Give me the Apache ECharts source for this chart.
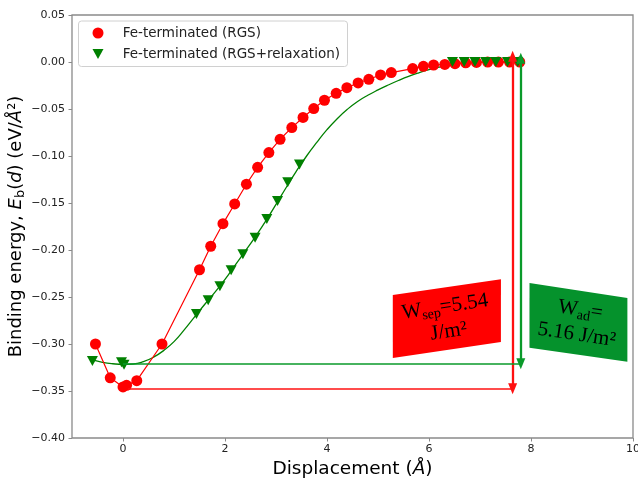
<!DOCTYPE html>
<html><head><meta charset="utf-8">
<script src="https://cdn.jsdelivr.net/npm/echarts@6/dist/echarts.min.js"></script>
<style>html,body{margin:0;padding:0;background:#fff}#c{width:638px;height:483px}</style>
</head><body><div id="c"></div>
<script>
// ---- data ----
const xTickValues = [0, 2, 4, 6, 8, 10];
const seriesNames = ['Fe-terminated (RGS)', 'Fe-terminated (RGS+relaxation)'];
const rgsX = [-0.54,-0.25,0.0,0.07,0.27,0.765,1.50,1.72,1.96,2.19,2.42,2.64,2.86,3.08,3.31,3.53,3.74,3.95,4.18,4.39,4.61,4.82,5.05,5.26,5.68,5.89,6.09,6.31,6.51,6.72,6.93,7.15,7.36,7.58,7.78];
const rgsY = [-0.300,-0.336,-0.3457,-0.344,-0.339,-0.300,-0.221,-0.196,-0.172,-0.151,-0.130,-0.112,-0.0964,-0.0822,-0.0698,-0.059,-0.0495,-0.0407,-0.0333,-0.0273,-0.0223,-0.0184,-0.0138,-0.0113,-0.0070,-0.0046,-0.0032,-0.0026,-0.0018,-0.0009,-0.0005,0,0,0,0];
const relaxX = [-0.60,-0.03,0.02,1.44,1.67,1.90,2.12,2.35,2.59,2.82,3.03,3.23,3.46,6.46,6.69,6.90,7.11,7.31,7.54,7.74];
const relaxY = [-0.318,-0.3195,-0.322,-0.268,-0.2535,-0.2386,-0.2216,-0.2045,-0.187,-0.167,-0.148,-0.128,-0.109,0,0,0,0,0,0,0];
const fitX = [-0.6,-0.4,-0.2,0.0,0.2,0.4,0.6,0.8,1.0,1.2,1.4,1.6,1.8,2.0,2.2,2.4,2.6,2.8,3.0,3.2,3.4,3.6,3.8,4.0,4.2,4.4,4.6,4.8,5.0,5.2,5.4,5.6,5.8,6.0,6.2,6.4,6.6,6.8,7.0,7.4,7.8];
const fitY = [-0.317,-0.3195,-0.321,-0.3217,-0.3213,-0.3188,-0.3140,-0.3068,-0.2975,-0.2850,-0.2715,-0.2580,-0.2450,-0.2313,-0.2160,-0.2010,-0.1855,-0.1690,-0.1515,-0.1335,-0.1160,-0.1000,-0.0855,-0.0720,-0.0603,-0.0503,-0.0420,-0.0354,-0.0297,-0.0245,-0.0197,-0.0153,-0.0115,-0.0082,-0.0055,-0.0033,-0.0017,-0.0007,-0.0002,0,0];
// annotation values
const wSep = { level: -0.3475, xStart: 0.1, xArrow: 7.64, top: 0.006, label: ['W', 'sep', '=5.54', 'J/m²'] };
const wAd  = { level: -0.321,  xStart: 0.0, xArrow: 7.80, top: 0.004, label: ['W', 'ad', '=', '5.16 J/m²'] };

const zip = (a, b) => a.map((v, i) => [v, b[i]]);
const RED = '#ff0000', GREEN = '#008000', RED_A = '#ff1010', GREEN_A = '#0a9a2a';
const triDown = 'path://M0,0 L10,0 L5,10 Z';

const chart = echarts.init(document.getElementById('c'), null, { renderer: 'canvas' });
const fmt = v => { const s = Math.abs(v).toFixed(2); return (v < -1e-9 ? '\u2212' : '') + s; };

function arrowLines(a, color) {
  return {
    silent: true, animation: false,
    lineStyle: { color: color, type: 'solid' },
    label: { show: false },
    emphasis: { disabled: true },
    data: [
      [{ coord: [a.xArrow, a.top], symbol: 'triangle', symbolSize: [9, 11], lineStyle: { width: 2.3, color: color } },
       { coord: [a.xArrow, a.level], symbol: 'triangle', symbolSize: [9, 11] }],
      [{ coord: [a.xStart, a.level], symbol: 'none', lineStyle: { width: 1.5, color: color } },
       { coord: [a.xArrow, a.level], symbol: 'none' }]
    ]
  };
}

chart.setOption({
  animation: false,
  grid: { left: 72, right: 5, top: 15, bottom: 45, show: true, borderColor: '#8a8a8a', borderWidth: 1.3,
          outerBoundsMode: 'none', containLabel: false },
  xAxis: {
    type: 'value', min: -1, max: 10,
    axisLine: { show: false, onZero: false },
    splitLine: { show: false },
    axisTick: { show: true, customValues: xTickValues, length: 3.5, lineStyle: { color: '#8a8a8a' } },
    axisLabel: { customValues: xTickValues, margin: 6, fontSize: 11, color: '#222', fontFamily: 'DejaVu Sans' },
    name: '{n|Displacement (}{i|Å}{n|)}', nameLocation: 'middle', nameGap: 22, nameMoveOverlap: false,
    nameTextStyle: { rich: {
      n: { fontSize: 18.5, fontFamily: 'DejaVu Sans', color: '#000' },
      i: { fontSize: 18.5, fontFamily: 'DejaVu Sans', fontStyle: 'italic', color: '#000' } } }
  },
  yAxis: {
    type: 'value', min: -0.4, max: 0.05, interval: 0.05,
    axisLine: { show: false, onZero: false },
    splitLine: { show: false },
    axisTick: { show: true, length: 3.5, lineStyle: { color: '#8a8a8a' } },
    axisLabel: { formatter: fmt, margin: 7, fontSize: 11, color: '#222', fontFamily: 'DejaVu Sans' },
    name: '{n|Binding energy, }{i|E}{s|b}{n|(}{i|d}{n|) (eV/}{i|Å}{n|²)}',
    nameLocation: 'middle', nameGap: 45, nameRotate: 90, nameMoveOverlap: false,
    nameTextStyle: { rich: {
      n: { fontSize: 18, fontFamily: 'DejaVu Sans', color: '#000', lineHeight: 22 },
      i: { fontSize: 18, fontFamily: 'DejaVu Sans', fontStyle: 'italic', color: '#000', lineHeight: 22 },
      s: { fontSize: 13, fontFamily: 'DejaVu Sans', color: '#000', verticalAlign: 'bottom', lineHeight: 15 } } }
  },
  series: [
    { name: seriesNames[0], type: 'line', data: zip(rgsX, rgsY), symbol: 'circle', symbolSize: 11,
      itemStyle: { color: RED }, lineStyle: { color: RED, width: 1.2 }, z: 3,
      markLine: arrowLines(wSep, RED_A) },
    { name: 'fit', type: 'line', data: zip(fitX, fitY), smooth: 0.5, showSymbol: false, symbol: 'none',
      lineStyle: { color: GREEN, width: 1.3 }, z: 2,
      markLine: arrowLines(wAd, GREEN_A) },
    { name: seriesNames[1], type: 'scatter', data: zip(relaxX, relaxY), symbol: triDown, symbolSize: [11, 10],
      itemStyle: { color: GREEN, opacity: 1 }, z: 4 }
  ]
});

// annotation boxes and legend
const P = (x, y) => chart.convertToPixel({ gridIndex: 0 }, [x, y]);
const redBox = [[5.29, -0.248], [7.41, -0.231], [7.41, -0.298], [5.29, -0.315]];
const greenBox = [[7.97, -0.235], [9.89, -0.251], [9.89, -0.319], [7.97, -0.304]];
const redC = P(6.35, -0.2737), greenC = P(8.93, -0.2771);
const serif = 'Liberation Serif';
const boxRich = {
  m: { fontSize: 21, fontFamily: serif, color: '#000', lineHeight: 25 },
  s: { fontSize: 14, fontFamily: serif, color: '#000', verticalAlign: 'bottom', lineHeight: 17 }
};
chart.setOption({
  graphic: [
    { type: 'polygon', shape: { points: redBox.map(p => P(p[0], p[1])) }, style: { fill: '#ff0000' }, z: 10 },
    { type: 'polygon', shape: { points: greenBox.map(p => P(p[0], p[1])) }, style: { fill: '#05922c' }, z: 10 },
    { type: 'text', x: redC[0], y: redC[1], rotation: 0.147, z: 11,
      style: { text: `{m|${wSep.label[0]}}{s|${wSep.label[1]}}{m|${wSep.label[2]}}\n{m|${wSep.label[3]}}`, rich: boxRich, align: 'center', verticalAlign: 'middle' } },
    { type: 'text', x: greenC[0], y: greenC[1], rotation: -0.148, z: 11,
      style: { text: `{m|${wAd.label[0]}}{s|${wAd.label[1]}}{m|${wAd.label[2]}}\n{m|${wAd.label[3]}}`, rich: boxRich, align: 'center', verticalAlign: 'middle' } },
    // legend
    { type: 'rect', shape: { x: 78.5, y: 21, width: 269, height: 45.5, r: 3 }, style: { fill: 'rgba(255,255,255,0.8)', stroke: '#d0d0d0', lineWidth: 1 }, z: 20 },
    { type: 'circle', shape: { cx: 98, cy: 33, r: 5.5 }, style: { fill: RED }, z: 21 },
    { type: 'polygon', shape: { points: [[92.5, 49], [103.5, 49], [98, 59]] }, style: { fill: GREEN }, z: 21 },
    { type: 'text', x: 122.7, y: 33, z: 21, style: { text: seriesNames[0], fontSize: 13.5, fontFamily: 'DejaVu Sans', fill: '#222', verticalAlign: 'middle' } },
    { type: 'text', x: 122.7, y: 54, z: 21, style: { text: seriesNames[1], fontSize: 13.5, fontFamily: 'DejaVu Sans', fill: '#222', verticalAlign: 'middle' } }
  ]
});
</script></body></html>
